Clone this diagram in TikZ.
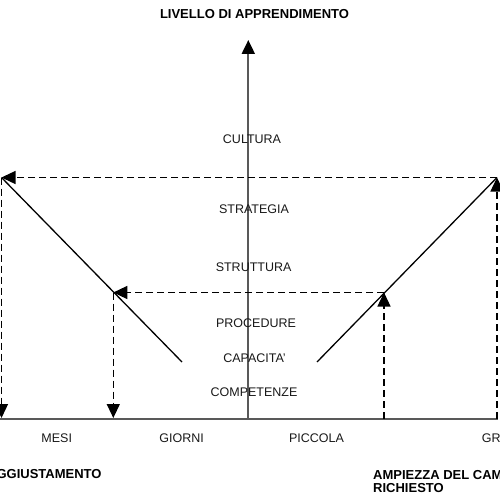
\documentclass[tikz,border=0pt]{standalone}
\usepackage{fontspec}
\setmainfont{Liberation Sans}
\usetikzlibrary{arrows.meta}
\begin{document}
\begin{tikzpicture}[x=1pt,y=-1pt,
 lbl/.style={font=\fontsize{12.5}{14}\selectfont, inner sep=0pt, text=black!90},
 ttl/.style={font=\fontsize{13}{15}\selectfont\bfseries, inner sep=0pt},
 axisline/.style={line width=2pt, draw=black!65},
 guide/.style={line width=1.3pt, dash pattern=on 7pt off 4pt},
 diag/.style={line width=1.3pt},
 tip/.style={-{Triangle[length=14pt,width=13pt,color=black]}}
]
\useasboundingbox (0,0) rectangle (500,500);
\clip (0,0) rectangle (500,500);
% coordinates
\coordinate (O) at (248.3,418.7);
\coordinate (Ytop) at (248.3,40);
\coordinate (Xl) at (-2,418.7);
\coordinate (Xr) at (498,418.7);
\coordinate (TL) at (1.5,177.5);
\coordinate (TR) at (497,177.5);
\coordinate (TLb) at (1.5,418);
\coordinate (TRb) at (497,418.7);
\coordinate (ML) at (113.3,292.5);
\coordinate (MR) at (384,292.5);
\coordinate (MLb) at (113.3,418);
\coordinate (MRb) at (384,418.7);
\coordinate (LE) at (182,362);
\coordinate (RE) at (317,362);
% axes
\draw[axisline] (Xl) -- (Xr);
\draw[axisline,tip] (O) -- (Ytop);
% guides
\draw[guide,tip] (TR) -- (TL);
\draw[guide,tip] (TL) -- (TLb);
\draw[guide,tip] (TRb) -- (TR);
\draw[guide,tip] (MR) -- (ML);
\draw[guide,tip] (ML) -- (MLb);
\draw[guide,tip] (MRb) -- (MR);
% diagonals
\draw[diag] (LE) -- (TL);
\draw[diag] (RE) -- (TR);
% labels
\node[ttl] (title) at (254.5,14.3) {LIVELLO DI APPRENDIMENTO};
\node[lbl] (cult) at (252,139.5) {CULTURA};
\node[lbl] (strat) at (254,209) {STRATEGIA};
\node[lbl] (strut) at (253.6,266.7) {STRUTTURA};
\node[lbl] (proc) at (256,323.5) {PROCEDURE};
\node[lbl] (capa) at (254.5,358.3) {CAPACITA'};
\node[lbl] (comp) at (254,392.5) {COMPETENZE};
\node[lbl] (mesi) at (56.7,438) {MESI};
\node[lbl] (giorni) at (181.6,438) {GIORNI};
\node[lbl] (picc) at (316.5,438) {PICCOLA};
\node[lbl,anchor=west] (gr) at (481.7,438) {GR};
\node[ttl,anchor=east] (aggiu) at (101.7,474.5) {GGIUSTAMENTO};
\node[ttl,anchor=west] (ampi) at (373,475) {AMPIEZZA DEL CAM};
\node[ttl,anchor=west] (rich) at (373,488) {RICHIESTO};
\end{tikzpicture}
\end{document}
